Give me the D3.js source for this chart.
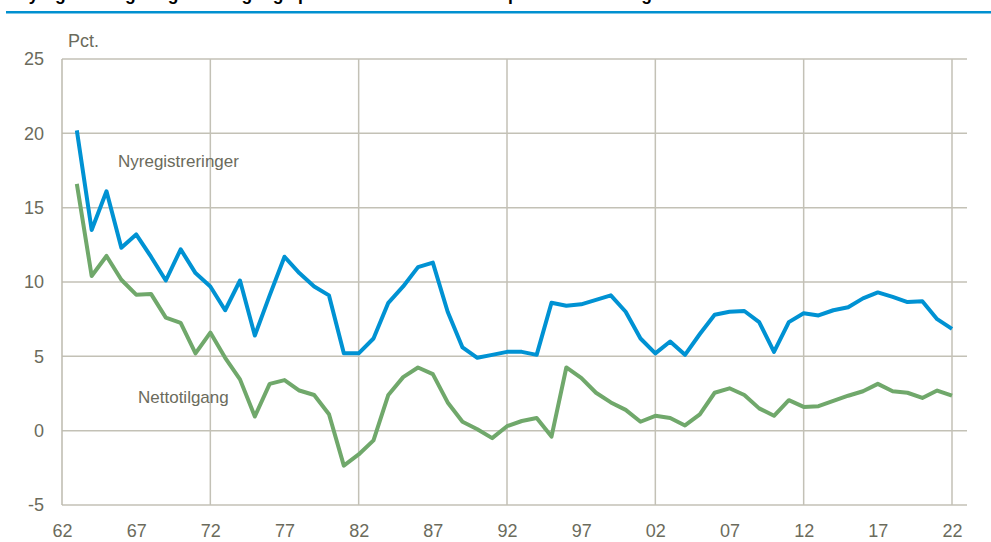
<!DOCTYPE html>
<html>
<head>
<meta charset="utf-8">
<script src="https://d3js.org/d3.v7.min.js"></script>
<style>
	body{
		margin:0;
		background:#fff;
		font-family:'Liberation Sans', Arial, sans-serif;
	}
	.tick text{
		fill:#6b6b5c;
		font-size:18px;
	}
</style>
</head>
<body>
<div id="chart"></div>
<script>

// DATA

var years = [1963,1964,1965,1966,1967,1968,1969,1970,1971,1972,
	1973,1974,1975,1976,1977,1978,1979,1980,1981,1982,
	1983,1984,1985,1986,1987,1988,1989,1990,1991,1992,
	1993,1994,1995,1996,1997,1998,1999,2000,2001,2002,
	2003,2004,2005,2006,2007,2008,2009,2010,2011,2012,
	2013,2014,2015,2016,2017,2018,2019,2020,2021,2022];

var nyregistreringer = [20.2,13.5,16.1,12.3,13.2,11.7,10.1,12.2,10.6,9.7,
	8.1,10.1,6.4,9.1,11.7,10.6,9.7,9.1,5.2,5.2,
	6.2,8.6,9.7,11.0,11.3,8.0,5.6,4.9,5.1,5.3,
	5.3,5.1,8.6,8.4,8.5,8.8,9.1,8.0,6.2,5.2,
	6.0,5.1,6.5,7.8,8.0,8.05,7.3,5.3,7.3,7.9,
	7.75,8.1,8.3,8.9,9.3,9.0,8.65,8.7,7.5,6.85];

var nettotilgang = [16.6,10.4,11.75,10.15,9.15,9.2,7.6,7.25,5.2,6.6,
	4.9,3.45,0.95,3.15,3.4,2.7,2.4,1.1,-2.35,-1.6,
	-0.65,2.4,3.6,4.25,3.8,1.9,0.6,0.1,-0.5,0.3,
	0.65,0.85,-0.4,4.25,3.55,2.55,1.9,1.4,0.6,1.0,
	0.85,0.35,1.1,2.55,2.85,2.4,1.5,1.0,2.05,1.6,
	1.65,2.0,2.35,2.65,3.15,2.65,2.55,2.2,2.7,2.35];

var yTicks = [-5,0,5,10,15,20,25];
var xTicks = [1962,1967,1972,1977,1982,1987,1992,1997,2002,2007,2012,2017,2022];
var xGrid = [1972,1982,1992,2002,2012,2022];

// SETUP

var width = 991;
var height = 542;

var svg = d3.select("#chart").append("svg")
	.attr("width", width)
	.attr("height", height);

var x = d3.scaleLinear().domain([1962, 2022]).range([62, 952]);
var y = d3.scaleLinear().domain([-5, 25]).range([505, 59]);
var gridRight = 967;

// title (cut off at the top of the picture) and rule
svg.append("text")
	.attr("x", 16)
	.attr("y", 0)
	.attr("font-size", 17.5)
	.attr("font-weight", "bold")
	.attr("fill", "#000")
	.text("Nyregistreringer og nettotilgang i prosent av bestanden av personbiler. Årlig");

svg.append("rect")
	.attr("x", 6)
	.attr("y", 11)
	.attr("width", width - 6)
	.attr("height", 2.5)
	.attr("fill", "#0090d0");

// GRID

svg.append("g").selectAll("line")
	.data(yTicks)
	.enter()
	.append("line")
	.attr("x1", x(1962))
	.attr("x2", gridRight)
	.attr("y1", function(d){ return y(d); })
	.attr("y2", function(d){ return y(d); })
	.attr("stroke", "#c3c1b6")
	.attr("stroke-width", 1.5);

svg.append("g").selectAll("line")
	.data(xGrid)
	.enter()
	.append("line")
	.attr("x1", function(d){ return x(d); })
	.attr("x2", function(d){ return x(d); })
	.attr("y1", y(25))
	.attr("y2", y(-5))
	.attr("stroke", "#c3c1b6")
	.attr("stroke-width", 1.5);

svg.append("line")
	.attr("x1", x(1962)).attr("x2", x(1962))
	.attr("y1", y(25)).attr("y2", y(-5))
	.attr("stroke", "#bcbaae")
	.attr("stroke-width", 1.5);

// AXES

var xAxis = svg.append("g")
	.attr("transform", "translate(0," + 520 + ")")
	.call(d3.axisBottom(x)
		.tickValues(xTicks)
		.tickSize(0)
		.tickFormat(function(d){ return String(d).slice(2); }));
xAxis.select(".domain").remove();
xAxis.selectAll("text").attr("dy", "0.71em").attr("y", 4);

var yAxis = svg.append("g")
	.attr("transform", "translate(44,0)")
	.call(d3.axisLeft(y)
		.tickValues(yTicks)
		.tickSize(0)
		.tickPadding(0)
		.tickFormat(function(d){ return String(d); }));
yAxis.select(".domain").remove();

svg.append("text")
	.attr("x", 68)
	.attr("y", 47)
	.attr("font-size", 18)
	.attr("fill", "#6b6b5c")
	.text("Pct.");

// LINES

var line = d3.line()
	.x(function(d, i){ return x(years[i]); })
	.y(function(d){ return y(d); });

svg.append("path")
	.datum(nettotilgang)
	.attr("fill", "none")
	.attr("stroke", "#70a86b")
	.attr("stroke-width", 4)
	.attr("stroke-linejoin", "round")
	.attr("d", line);

svg.append("path")
	.datum(nyregistreringer)
	.attr("fill", "none")
	.attr("stroke", "#0092d3")
	.attr("stroke-width", 4)
	.attr("stroke-linejoin", "round")
	.attr("d", line);

// LABELS

svg.append("text")
	.attr("x", 118)
	.attr("y", 167)
	.attr("font-size", 17)
	.attr("fill", "#6b6b5c")
	.text("Nyregistreringer");

svg.append("text")
	.attr("x", 138)
	.attr("y", 403)
	.attr("font-size", 17)
	.attr("fill", "#6b6b5c")
	.text("Nettotilgang");

</script>
</body>
</html>
